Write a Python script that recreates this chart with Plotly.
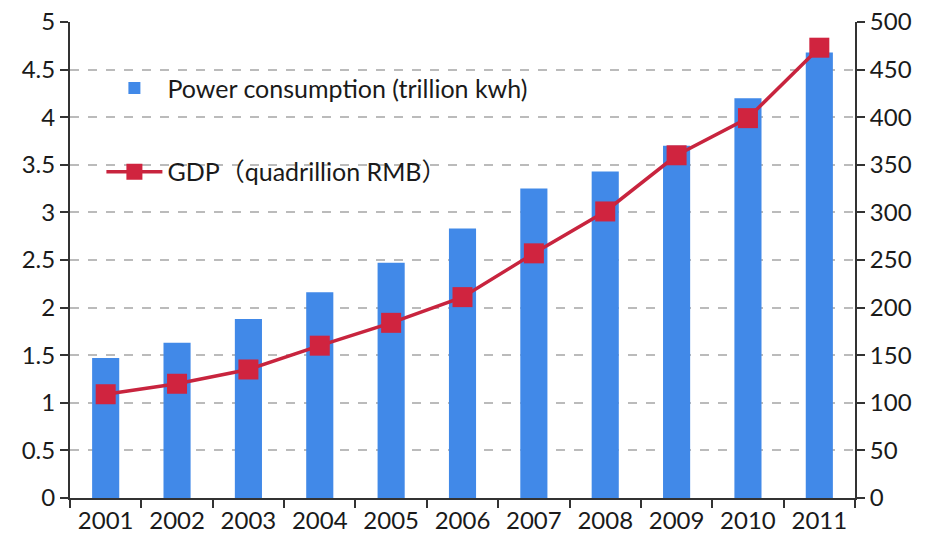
import plotly.graph_objects as go

years = ["2001", "2002", "2003", "2004", "2005", "2006", "2007", "2008", "2009", "2010", "2011"]
power = [1.47, 1.63, 1.88, 2.16, 2.47, 2.83, 3.25, 3.43, 3.70, 4.20, 4.68]
gdp = [109, 120, 135, 160, 184, 211, 257, 301, 360, 399, 473]

left_ticks = [0, 0.5, 1, 1.5, 2, 2.5, 3, 3.5, 4, 4.5, 5]
left_labels = ["0", "0.5", "1", "1.5", "2", "2.5", "3", "3.5", "4", "4.5", "5"]
right_ticks = [0, 50, 100, 150, 200, 250, 300, 350, 400, 450, 500]

FONT = "Lato, 'Noto Sans CJK SC', sans-serif"
BLUE = "#4189E8"
RED = "#C8243E"

fig = go.Figure()
fig.add_trace(go.Bar(
    x=years, y=power, name="Power consumption (trillion kwh)",
    marker=dict(color=BLUE, line=dict(width=0)),
    legend="legend", showlegend=True,
))
fig.add_trace(go.Scatter(
    x=years, y=gdp, name="GDP（quadrillion RMB）", yaxis="y2",
    mode="lines+markers",
    line=dict(color=RED, width=3.5),
    marker=dict(symbol="square", size=20, color="#D0243F"),
    legend="legend2", showlegend=True,
))

fig.update_layout(
    width=925, height=542,
    showlegend=True,
    margin=dict(l=70, r=70, t=22, b=44),
    paper_bgcolor="white", plot_bgcolor="white",
    font=dict(family=FONT, size=23, color="#1a1a1a"),
    bargap=0.62,
    xaxis=dict(
        type="category", showline=True, linecolor="#333333", linewidth=2,
        ticks="outside", tickson="boundaries", ticklen=8, tickwidth=2, tickcolor="#333333",
        showgrid=False, tickfont=dict(size=24), range=[-0.5, 10.5], automargin=False,
    ),
    yaxis=dict(
        range=[0, 5], tickvals=left_ticks, ticktext=left_labels,
        showline=True, linecolor="#333333", linewidth=2,
        ticks="outside", ticklen=8, tickwidth=2, tickcolor="#333333",
        showgrid=True, gridcolor="#BBBBBB", gridwidth=1.5, griddash="dash",
        zeroline=False, tickfont=dict(size=24), automargin=False,
    ),
    yaxis2=dict(
        range=[0, 500], tickvals=right_ticks, overlaying="y", side="right",
        showline=True, linecolor="#333333", linewidth=2,
        ticks="outside", ticklen=8, tickwidth=2, tickcolor="#333333",
        showgrid=False, zeroline=False, tickfont=dict(size=24), automargin=False,
    ),
    legend=dict(
        x=0.04, y=0.861, xanchor="left", yanchor="middle",
        bgcolor="rgba(0,0,0,0)", font=dict(size=25), itemwidth=56,
        visible=True,
    ),
    legend2=dict(
        x=0.04, y=0.685, xanchor="left", yanchor="middle",
        bgcolor="rgba(0,0,0,0)", font=dict(size=25), itemwidth=56,
        visible=True,
    ),
)

fig.write_html("out.html")
